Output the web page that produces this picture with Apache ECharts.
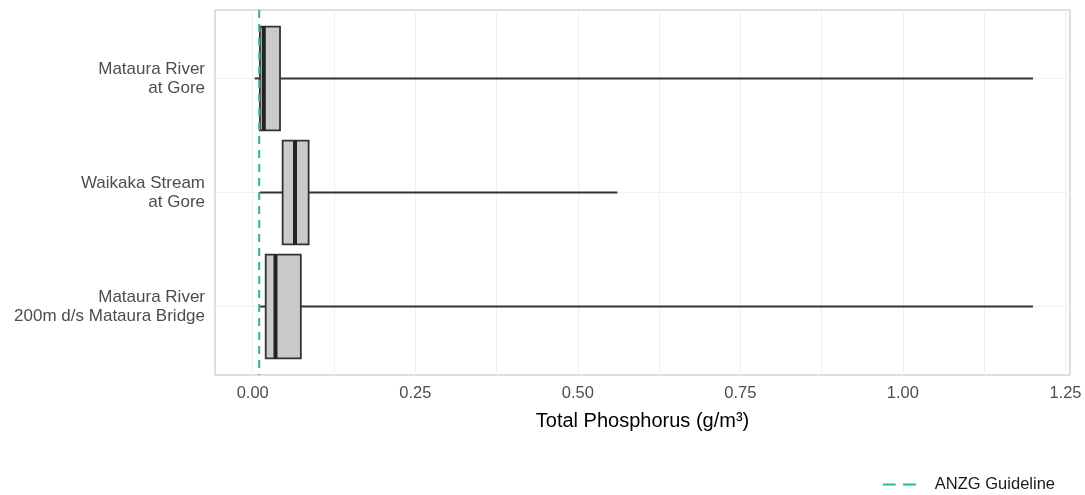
<!DOCTYPE html>
<html>
<head>
<meta charset="utf-8">
<script src="https://cdn.jsdelivr.net/npm/echarts@6/dist/echarts.min.js"></script>
<style>html,body{margin:0;padding:0;background:#fff;}#c{width:1085px;height:495px;}</style>
</head>
<body>
<div id="c"></div>
<script>
// Categories (top to bottom)
const sites = ["Mataura River\nat Gore", "Waikaka Stream\nat Gore", "Mataura River\n200m d/s Mataura Bridge"];
// Box statistics per site: [min, Q1, median, Q3, max] in g/m³
const lowWhisker = [0.003, 0.011, 0.011];
const q1Values   = [0.011, 0.046, 0.020];
const medians    = [0.017, 0.065, 0.035];
const q3Values   = [0.042, 0.086, 0.074];
const highWhisker= [1.20, 0.561, 1.20];
// Guideline
const guidelineName = "ANZG Guideline";
const guidelineValue = 0.01;
// Axis ticks
const xTicks = [0, 0.25, 0.5, 0.75, 1.0, 1.25];
const xGridValues = [0, 0.125, 0.25, 0.375, 0.5, 0.625, 0.75, 0.875, 1.0, 1.125, 1.25];
const yIdx = [0, 1, 2];

const boxData = sites.map((s, i) => [i, lowWhisker[i], q1Values[i], medians[i], q3Values[i], highWhisker[i]]);

const chart = echarts.init(document.getElementById('c'), null, {renderer: 'canvas'});
const font = 'Liberation Sans, Arial, sans-serif';
const green = '#1fbf86';
chart.setOption({
  animation: false,
  backgroundColor: '#ffffff',
  grid: {left: 215, right: 15, top: 10, bottom: 120, show: true, borderColor: '#bdbdbd', borderWidth: 1, containLabel: false},
  xAxis: {
    type: 'value', min: -0.058, max: 1.257,
    name: 'Total Phosphorus (g/m³)', nameLocation: 'middle', nameGap: 36,
    nameTextStyle: {fontFamily: font, fontSize: 20, color: '#000'},
    axisLine: {show: false},
    axisTick: {show: false, customValues: xGridValues},
    axisLabel: {customValues: xTicks, fontFamily: font, fontSize: 16.5, color: '#4d4d4d', margin: 10,
      formatter: v => v.toFixed(2)},
    splitLine: {show: true, lineStyle: {color: '#f0f0f0', width: 1}}
  },
  yAxis: {
    type: 'value', min: -0.6, max: 2.6, inverse: true,
    axisLine: {show: false},
    axisTick: {show: false, customValues: yIdx},
    axisLabel: {customValues: yIdx, fontFamily: font, fontSize: 17, color: '#4d4d4d', lineHeight: 19, margin: 10, align: 'right',
      formatter: v => sites[Math.round(v)]},
    splitLine: {show: true, lineStyle: {color: '#f0f0f0', width: 1}}
  },
  legend: {
    right: 25, bottom: -3, itemWidth: 33, itemHeight: 3, itemGap: 10,
    data: [{name: guidelineName, icon: 'path://M0,0H12V2H0Z M19,0H31V2H19Z'}],
    itemStyle: {color: green},
    textStyle: {fontFamily: font, fontSize: 16.5, color: '#1a1a1a', padding: [0, 0, 0, 14]}
  },
  series: [
    {
      type: 'custom',
      name: 'boxes',
      data: boxData,
      encode: {x: [1, 2, 3, 4, 5], y: 0},
      renderItem: function (params, api) {
        const y = api.value(0);
        const pMin = api.coord([api.value(1), y]);
        const pQ1 = api.coord([api.value(2), y]);
        const pMed = api.coord([api.value(3), y]);
        const pQ3 = api.coord([api.value(4), y]);
        const pMax = api.coord([api.value(5), y]);
        const h = api.size([0, 1])[1] * 0.455;
        const cy = pMed[1];
        return {
          type: 'group',
          children: [
            {type: 'line', shape: {x1: pMin[0], y1: cy, x2: pQ1[0], y2: cy}, style: {stroke: '#333', lineWidth: 2}},
            {type: 'line', shape: {x1: pQ3[0], y1: cy, x2: pMax[0], y2: cy}, style: {stroke: '#333', lineWidth: 2}},
            {type: 'rect', shape: {x: pQ1[0], y: cy - h, width: pQ3[0] - pQ1[0], height: 2 * h}, style: {fill: '#cacaca', stroke: '#333', lineWidth: 1.8}},
            {type: 'line', shape: {x1: pMed[0], y1: cy - h, x2: pMed[0], y2: cy + h}, style: {stroke: '#222', lineWidth: 4}}
          ]
        };
      },
      z: 2
    },
    {
      type: 'line',
      name: guidelineName,
      data: [[guidelineValue, -0.6], [guidelineValue, 2.6]],
      symbol: 'none',
      lineStyle: {color: green, width: 2, type: [8, 6]},
      itemStyle: {color: green},
      z: 3
    }
  ]
});
</script>
</body>
</html>
